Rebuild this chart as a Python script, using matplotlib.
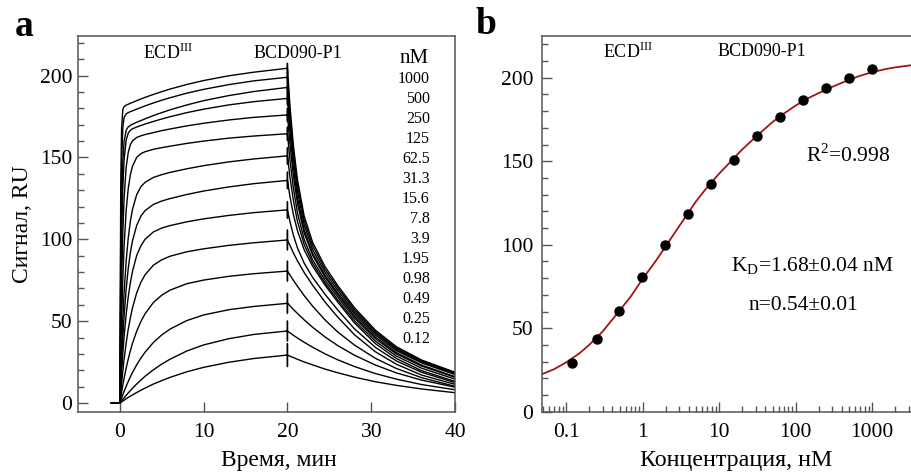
import numpy as np
import matplotlib
matplotlib.use("Agg")
import matplotlib.pyplot as plt
from matplotlib.ticker import MultipleLocator, LogLocator, FixedLocator, NullFormatter

plt.rcParams['font.family'] = ['Liberation Serif', 'DejaVu Serif']
plt.rcParams['mathtext.fontset'] = 'custom'
plt.rcParams['mathtext.rm'] = 'Liberation Serif'

# ---- panel a: sensorgrams ----
conc_labels = ['1000', '500', '250', '125', '62.5', '31.3', '15.6', '7.8',
               '3.9', '1.95', '0.98', '0.49', '0.25', '0.12']

t_base = [-1, 0]
t_assoc = [0, 0.1, 0.2, 0.35, 0.5, 0.75, 1, 1.25, 1.5, 2, 2.5, 3, 4, 5, 6, 8, 10, 13, 16, 20]
assoc = [
    [0, 131.2, 167.4, 179.2, 181.1, 182, 182.5, 183.1, 183.6, 184.7, 185.7, 186.7, 188.5, 190.2, 191.8, 194.6, 197, 199.9, 202.1, 204.5],
    [0, 104, 146.7, 168.4, 174.4, 176.6, 177.4, 178, 178.5, 179.5, 180.5, 181.5, 183.3, 185, 186.5, 189.3, 191.6, 194.5, 196.8, 199],
    [0, 75.4, 117, 147.2, 159.6, 166.7, 168.7, 169.6, 170.3, 171.5, 172.5, 173.6, 175.6, 177.4, 179.1, 182.1, 184.7, 187.8, 190.3, 192.8],
    [0, 59.8, 98, 131.3, 148.4, 160.6, 164.9, 166.6, 167.5, 168.6, 169.5, 170.4, 172, 173.5, 174.9, 177.4, 179.5, 182.1, 184.1, 186.1],
    [0, 41.5, 72.3, 104.3, 124.8, 144, 153.2, 157.8, 160.1, 162.2, 163.2, 164, 165.2, 166.4, 167.4, 169.3, 170.9, 172.9, 174.5, 176],
    [0, 27.3, 49.8, 76, 95.5, 117.7, 131.2, 139.4, 144.6, 150, 152.3, 153.5, 155, 156, 156.9, 158.6, 160, 161.8, 163.1, 164.5],
    [0, 17.4, 32.5, 51.6, 67.1, 86.9, 101, 111, 118.2, 127.2, 132.1, 134.8, 137.8, 139.5, 140.9, 143.1, 145, 147.3, 149.1, 151],
    [0, 13.2, 24.9, 40.1, 52.9, 69.7, 82.4, 91.9, 99, 108.4, 114.1, 117.5, 121.3, 123.4, 124.9, 127.4, 129.5, 132, 134, 136],
    [0, 9.7, 18.5, 30.2, 40.3, 54.2, 65, 73.5, 80.4, 90, 96, 100, 104.5, 106.9, 108.4, 110.7, 112.5, 114.6, 116.3, 118],
    [0, 6.1, 11.8, 19.6, 26.6, 36.6, 45.2, 52.1, 58, 67.2, 73.7, 78.3, 84.2, 87.5, 89.7, 92.4, 94.2, 96.3, 97.9, 99.6],
    [0, 3.4, 6.4, 11, 15.1, 21.4, 26.9, 31.9, 36.4, 43.8, 49.7, 54.5, 61.4, 65.9, 69, 72.9, 75.1, 77.4, 79, 80.6],
    [0, 1.6, 2.9, 5.1, 7.1, 10.2, 13.2, 16, 18.6, 23.3, 27.4, 31, 37, 41.6, 45.2, 50.4, 53.8, 57, 59, 60.9],
    [0, 0.7, 1.3, 2.3, 3.2, 4.7, 6.2, 7.6, 9, 11.6, 14, 16.3, 20.3, 23.8, 26.8, 31.8, 35.5, 39.3, 41.9, 44],
    [0, 0.35, 0.7, 1.2, 1.7, 2.6, 3.4, 4.2, 4.9, 6.4, 7.8, 9.1, 11.6, 13.7, 15.7, 19.1, 21.8, 24.9, 27.2, 29.3],
]
t_dissoc = [20, 20.3, 20.7, 21.2, 22, 23, 24.5, 26, 28, 30.5, 33, 36, 40]
dissoc = [
    [204.5, 181.7, 157.8, 136.2, 114.1, 98.2, 83.2, 71.8, 58.2, 44.5, 34.4, 26.3, 18.8],
    [199, 176.9, 153.8, 132.8, 111.5, 96.1, 81.5, 70.4, 57, 43.5, 33.6, 25.7, 18.3],
    [192.8, 171.6, 149.3, 129.1, 108.7, 93.8, 79.7, 68.9, 55.7, 42.6, 32.8, 25.1, 17.9],
    [186.1, 165.8, 144.6, 125.3, 105.7, 91.5, 77.9, 67.3, 54.5, 41.5, 32, 24.5, 17.4],
    [176, 158.1, 139.2, 121.8, 103.8, 90.3, 76.8, 66.2, 53.1, 40.3, 30.8, 23.2, 16.1],
    [164.5, 148.5, 131.7, 116.1, 99.8, 87.5, 74.9, 64.7, 51.9, 39.3, 30, 22.6, 15.7],
    [151, 138, 124.1, 110.8, 96.8, 85.5, 73.2, 63, 50.3, 37.8, 28.7, 21.3, 14.6],
    [136, 126.2, 115.4, 105.1, 93.6, 83.6, 71.9, 61.7, 48.9, 36.3, 27.2, 19.8, 13.2],
    [118, 110.8, 102.7, 94.7, 85.4, 76.8, 66.3, 56.9, 45.3, 34, 25.7, 18.8, 12.5],
    [99.6, 96.3, 91.8, 86.8, 79.7, 72, 61.6, 52.5, 41.7, 31.3, 23.7, 17.1, 11.4],
    [80.6, 78.2, 75, 71.3, 65.6, 59.2, 50.7, 43.4, 35.4, 27.3, 21.1, 15.5, 10.2],
    [61, 59.4, 57.2, 54.7, 50.8, 46.3, 40.3, 35.1, 29.2, 23.2, 18.4, 14, 9.7],
    [44, 42.9, 41.4, 39.7, 37.1, 34.1, 30, 26.4, 22.3, 18, 14.6, 11.3, 8.1],
    [29.3, 28.6, 27.8, 26.7, 25.1, 23.3, 20.7, 18.5, 15.8, 13, 10.8, 8.6, 6.3],
]
# injection spike half-height at t=20 (RU)
spike = [3, 3, 3, 4, 4, 4, 5, 5, 5, 6, 6, 6, 6, 7]

# ---- panel b: steady-state response ----
conc_nM = [0.12, 0.25, 0.49, 0.98, 1.95, 3.9, 7.8, 15.6, 31.3, 62.5, 125, 250, 500, 1000]
response = [29, 43.5, 60.6, 80.7, 99.7, 118.3, 136.3, 150.8, 165.2, 176.3, 186.9, 193.7, 199.6, 205.4]
fit_c = [0.048, 0.07, 0.1, 0.15, 0.2, 0.3, 0.5, 0.7, 1, 1.5, 2, 3, 5, 7, 10, 15, 20, 30,
         50, 70, 100, 150, 200, 300, 500, 700, 1000, 1500, 2000, 3640]
fit_y = [22.4, 25.5, 29.5, 35, 40, 48, 60.5, 69, 79.5, 90.5, 99, 111, 126, 134.5, 142.5, 151,
         157, 164.5, 173.5, 178.5, 183.3, 188, 190.8, 194.5, 198.8, 201.2, 203.3, 205.2, 206.2, 207.8]

W, H = 911, 474
fig = plt.figure(figsize=(W / 100, H / 100), dpi=100)
ax1 = fig.add_axes([78 / W, 1 - 411.7 / H, 377 / W, 375.7 / H])
ax2 = fig.add_axes([541.7 / W, 1 - 411.7 / H, 373.3 / W, 375.7 / H])

spine_col = '#555555'
for ax in (ax1, ax2):
    for s in ax.spines.values():
        s.set_color(spine_col)
        s.set_linewidth(1.1)
    ax.tick_params(which='both', direction='in', color=spine_col, top=False, right=False,
                   labelsize=15.5)
    ax.tick_params(which='major', length=7, width=1.0)
    ax.tick_params(which='minor', length=4, width=1.0)
    ax.tick_params(axis='x', pad=8)

for i in range(len(conc_labels)):
    y20 = assoc[i][-1]
    t = t_base + t_assoc[1:] + [20, 20, 20] + t_dissoc
    y = [0] + assoc[i] + [y20 + spike[i], y20 - spike[i], y20] + dissoc[i]
    ax1.plot(t, y, color='black', lw=1.0)

ax1.set_xlim(-5, 40)
ax1.set_ylim(-5.3, 224.2)
ax1.xaxis.set_major_locator(MultipleLocator(10))
ax1.yaxis.set_major_locator(MultipleLocator(50))
ax1.yaxis.set_minor_locator(MultipleLocator(10))
ax1.tick_params(axis='y', pad=4)
ax1.set_xlabel('Время, мин', fontsize=17)
ax1.xaxis.set_label_coords(0.532, -0.103)
ax1.set_ylabel('Сигнал, RU', fontsize=17, labelpad=5)

ax1.text(5.7, 213.8, r'ECD$^{\rm III}$', fontsize=13, ha='center', va='center')
ax1.text(21.3, 213.8, 'BCD090-P1', fontsize=13, ha='center', va='center')
ax1.text(35.1, 210.5, 'nM', fontsize=15, ha='center', va='center')
for i, lab in enumerate(conc_labels):
    ax1.text(37.0, 197.9 - 12.2 * i, lab, fontsize=11.5, ha='right', va='center')

ax2.plot(fit_c, fit_y, color='#a31515', lw=1.3, zorder=2)
ax2.plot(conc_nM, response, 'o', color='black', ms=6.5, zorder=3)
ax2.set_xscale('log')
ax2.set_xlim(0.048, 3640)
ax2.set_ylim(0, 225)
ax2.xaxis.set_major_locator(FixedLocator([0.1, 1, 10, 100, 1000]))
ax2.xaxis.set_major_formatter(plt.FuncFormatter(lambda v, p: '%g' % v))
ax2.xaxis.set_minor_locator(LogLocator(base=10, subs=np.arange(2, 10)))
ax2.xaxis.set_minor_formatter(NullFormatter())
ax2.yaxis.set_major_locator(MultipleLocator(50))
ax2.yaxis.set_minor_locator(MultipleLocator(10))
ax2.tick_params(axis='y', pad=6)
ax2.spines['right'].set_visible(False)
ax2.set_xlabel('Концентрация, нМ', fontsize=17.3)
ax2.xaxis.set_label_coords(0.5205, -0.103)

ax2.text(0.646, 215.7, r'ECD$^{\rm III}$', fontsize=13, ha='center', va='center')
ax2.text(36.1, 215.7, 'BCD090-P1', fontsize=13, ha='center', va='center')
ax2.text(486, 153.2, 'R$^2$=0.998', fontsize=15.5, ha='center', va='center')
ax2.text(167, 87.2, r'K$_{\rm D}$=1.68±0.04 nM', fontsize=15.5, ha='center', va='center')
ax2.text(125, 63.6, 'n=0.54±0.01', fontsize=15.5, ha='center', va='center')

fig.text(15 / W, 1 - 27 / H, 'a', fontsize=27, fontweight='bold', ha='left', va='center')
fig.text(475 / W, 1 - 24 / H, 'b', fontsize=27, fontweight='bold', ha='left', va='center')

fig.savefig('out.png', dpi=100)
